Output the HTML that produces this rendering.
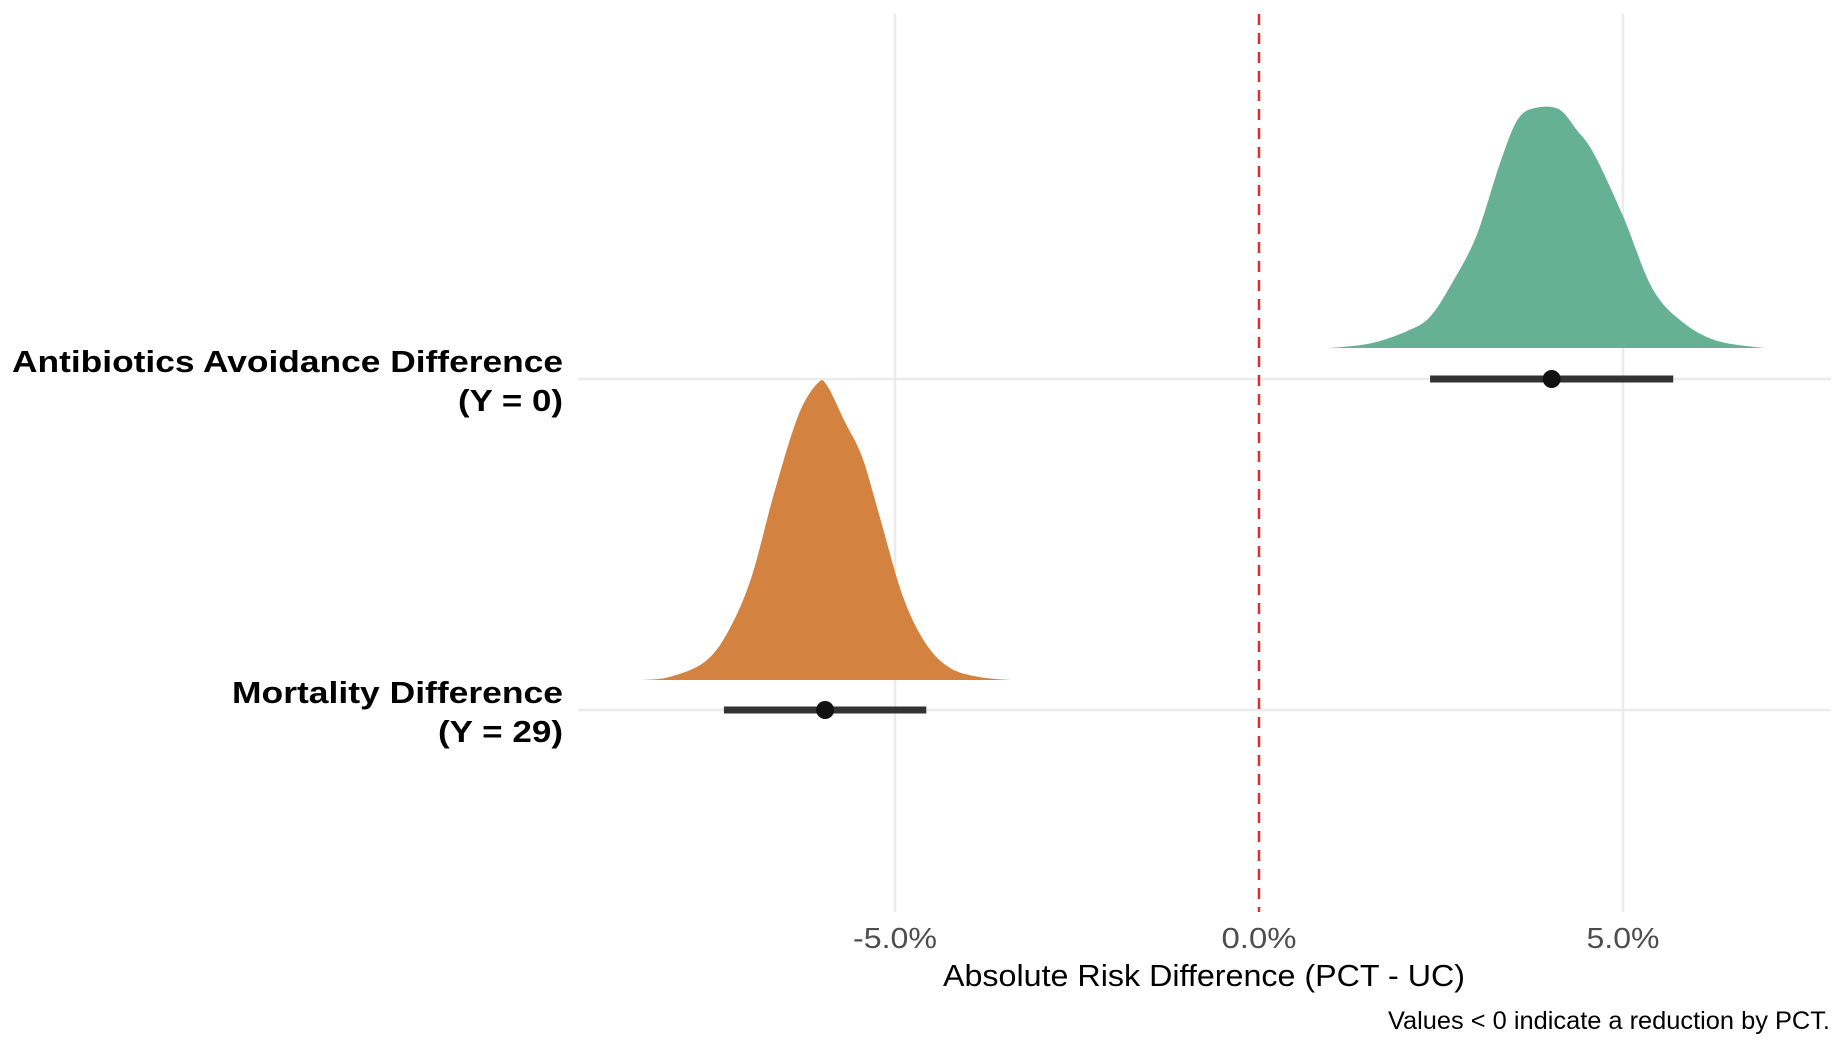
<!DOCTYPE html>
<html><head><meta charset="utf-8"><style>
html,body{margin:0;padding:0;background:#fff;}
svg{display:block;font-family:"Liberation Sans",Arial,sans-serif;}
</style></head><body>
<svg id="chart" width="1838" height="1044" viewBox="0 0 1838 1044">
<g id="grid"></g>
<g id="marks"></g>
<g id="labels"></g>
</svg>
<script>
const categories = ["Antibiotics Avoidance Difference", "Mortality Difference"];
const categorySub = ["(Y = 0)", "(Y = 29)"];
const xTicks = [-5, 0, 5];
const xTickLabels = ["-5.0%", "0.0%", "5.0%"];
const pointEstimates = [4.02, -5.96];
const intervalLow = [2.35, -7.35];
const intervalHigh = [5.69, -4.57];
const densityXGreen = [0.98,1.54,2.03,2.35,2.67,2.99,3.31,3.55,3.79,4.12,4.36,4.60,5.00,5.40,5.81,6.29,6.93];
const densityYGreen = [0,0.02,0.07,0.13,0.28,0.47,0.77,0.95,1,0.995,0.91,0.81,0.55,0.25,0.11,0.03,0];
const densityXOrange = [-8.47,-8.10,-7.62,-7.30,-6.98,-6.66,-6.33,-6.06,-5.93,-5.69,-5.45,-5.21,-4.89,-4.57,-4.24,-3.84,-3.41];
const densityYOrange = [0,0.01,0.06,0.16,0.34,0.63,0.89,1,0.99,0.87,0.75,0.55,0.28,0.12,0.04,0.01,0];

const NS = "http://www.w3.org/2000/svg";
const x0 = 1259, pxPerPct = 72.8;
function xs(v){ return x0 + v * pxPerPct; }
const rowY = [379, 710];
const baseY = [348, 680];
const maxH = [240, 297];
const fills = ["#66b094", "#d4823f"];
function el(tag, attrs, parent){ const e=document.createElementNS(NS,tag); for(const k in attrs) e.setAttribute(k,attrs[k]); parent.appendChild(e); return e; }
const grid=document.getElementById('grid'), marks=document.getElementById('marks'), labels=document.getElementById('labels');

xTicks.forEach((t,i)=>{
  if(t===0) return;
  const g=el('line',{x1:xs(t),x2:xs(t),y1:14,y2:912,stroke:'#ebebeb','stroke-width':2.5},grid);
  
  
});
rowY.forEach((y)=>{
  const g=el('line',{x1:578,x2:1831,y1:y,y2:y,stroke:'#ebebeb','stroke-width':2.5},grid);
  
  
});

const dxs=[densityXGreen,densityXOrange], dys=[densityYGreen,densityYOrange];
const densNames=['density-antibiotics','density-mortality'];
for(let r=0;r<2;r++){
  const pts=dxs[r].map((v,i)=>[xs(v), baseY[r]-dys[r][i]*maxH[r]]);
  let d='M'+pts[0][0].toFixed(1)+','+baseY[r]+' L'+pts[0][0].toFixed(1)+','+pts[0][1].toFixed(1);
  for(let i=0;i<pts.length-1;i++){
    const p0=pts[Math.max(0,i-1)], p1=pts[i], p2=pts[i+1], p3=pts[Math.min(pts.length-1,i+2)];
    const c1=[p1[0]+(p2[0]-p0[0])/6, Math.min(baseY[r], p1[1]+(p2[1]-p0[1])/6)];
    const c2=[p2[0]-(p3[0]-p1[0])/6, Math.min(baseY[r], p2[1]-(p3[1]-p1[1])/6)];
    d+=' C'+c1[0].toFixed(1)+','+c1[1].toFixed(1)+' '+c2[0].toFixed(1)+','+c2[1].toFixed(1)+' '+p2[0].toFixed(1)+','+p2[1].toFixed(1);
  }
  d+=' L'+pts[pts.length-1][0].toFixed(1)+','+baseY[r]+' Z';
  const p=el('path',{d:d,fill:fills[r]},marks);
  
  
}

const zl=el('line',{x1:x0,x2:x0,y1:14,y2:912,stroke:'#dd2c2c','stroke-width':2.5,'stroke-dasharray':'11,8'},marks);



for(let r=0;r<2;r++){
  const l=el('line',{x1:xs(intervalLow[r]),x2:xs(intervalHigh[r]),y1:rowY[r],y2:rowY[r],stroke:'#333333','stroke-width':7},marks);
  
  
  const c=el('circle',{cx:xs(pointEstimates[r]),cy:rowY[r],r:9,fill:'#111'},marks);
  
  
}

const catW=[551,331], subW=[105,125];
for(let r=0;r<2;r++){
  const t=el('text',{x:563,y:rowY[r]-7,'text-anchor':'end','font-size':31,'font-weight':'bold',fill:'#000',textLength:catW[r],lengthAdjust:'spacingAndGlyphs'},labels);
  t.textContent=categories[r];
  
  
  const s=el('text',{x:563,y:rowY[r]+32,'text-anchor':'end','font-size':31,'font-weight':'bold',fill:'#000',textLength:subW[r],lengthAdjust:'spacingAndGlyphs'},labels);
  s.textContent=categorySub[r];
  
  
}
const tickW=[84,75,73];
xTicks.forEach((t,i)=>{
  const tx=el('text',{x:xs(t),y:948,'text-anchor':'middle','font-size':29,fill:'#4d4d4d',textLength:tickW[i],lengthAdjust:'spacingAndGlyphs'},labels);
  tx.textContent=xTickLabels[i];
  
  
});
const at=el('text',{x:1204,y:986,'text-anchor':'middle','font-size':31,fill:'#000',textLength:522,lengthAdjust:'spacingAndGlyphs'},labels);
at.textContent='Absolute Risk Difference (PCT - UC)';


const cap=el('text',{x:1830,y:1029,'text-anchor':'end','font-size':25,fill:'#000',textLength:442,lengthAdjust:'spacingAndGlyphs'},labels);
cap.textContent='Values < 0 indicate a reduction by PCT.';


</script>
</body></html>
